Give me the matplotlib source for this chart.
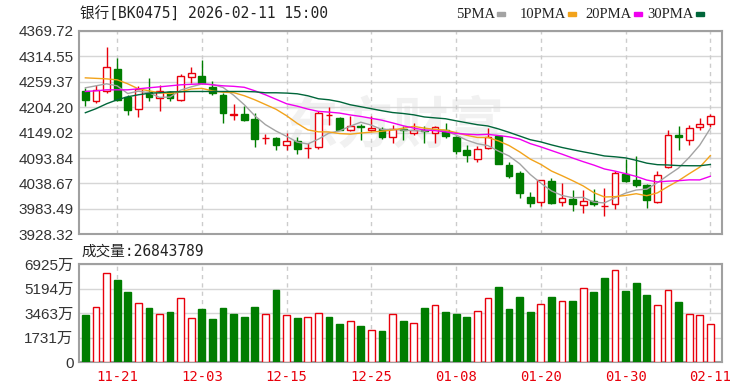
import numpy as np
import pandas as pd
import matplotlib
matplotlib.use('Agg')
import matplotlib.pyplot as plt
from matplotlib.patches import Rectangle

# 银行[BK0475] daily candles
opens = [4238.4, 4216.7, 4238.4, 4287.5, 4225.4, 4200.9, 4236.2, 4224.1, 4237.1, 4218.9,
         4269.5, 4273.0, 4249.2, 4230.6, 4188.4, 4189.5, 4178.6, 4137.7, 4137.5, 4121.5,
         4130.2, 4115.2, 4118.0, 4187.0, 4180.8, 4155.5, 4162.6, 4155.5, 4157.0, 4139.7,
         4157.7, 4148.3, 4154.0, 4148.3, 4155.5, 4139.7, 4110.7, 4092.7, 4115.9, 4141.0,
         4079.7, 4061.8, 4009.8, 3998.2, 4043.6, 3998.2, 4005.5, 3991.0, 4000.3, 3989.9,
         3993.2, 4060.3, 4045.8, 4035.0, 3998.2, 4073.9, 4144.7, 4133.9, 4161.3, 4168.5]
highs = [4245.7, 4252.9, 4335.7, 4310.6, 4231.2, 4250.7, 4267.4, 4252.9, 4238.4, 4276.7,
         4292.5, 4307.0, 4262.2, 4234.9, 4211.7, 4205.9, 4191.6, 4146.8, 4138.5, 4148.3,
         4139.7, 4126.7, 4195.1, 4203.7, 4182.0, 4185.8, 4168.5, 4184.3, 4160.5, 4166.3,
         4162.6, 4170.0, 4164.1, 4164.1, 4170.0, 4141.0, 4123.0, 4119.3, 4159.2, 4142.0,
         4084.7, 4065.3, 4019.8, 4047.3, 4051.0, 4040.1, 4024.1, 4024.1, 4025.7, 4027.8,
         4065.3, 4092.1, 4099.2, 4036.5, 4065.3, 4154.0, 4162.6, 4166.3, 4180.8, 4190.1]
lows = [4207.4, 4214.0, 4236.0, 4218.0, 4187.9, 4183.0, 4216.7, 4195.1, 4216.7, 4217.0,
        4256.5, 4255.0, 4229.7, 4170.0, 4177.1, 4173.4, 4118.0, 4125.2, 4112.2, 4112.2,
        4103.5, 4094.2, 4114.4, 4166.3, 4154.0, 4153.3, 4133.9, 4153.3, 4135.4, 4126.7,
        4133.9, 4144.7, 4126.7, 4126.7, 4137.5, 4103.5, 4084.7, 4084.7, 4113.7, 4080.0,
        4051.0, 4007.7, 3987.3, 3989.5, 3993.2, 3989.5, 3978.7, 3975.2, 3989.5, 3967.9,
        3982.4, 4041.4, 4031.5, 3986.0, 3997.0, 4072.0, 4110.7, 4123.0, 4155.5, 4161.3]
closes = [4218.9, 4242.1, 4291.2, 4220.4, 4197.3, 4244.2, 4225.4, 4240.5, 4224.1, 4273.0,
          4279.5, 4256.5, 4234.9, 4191.6, 4188.4, 4177.1, 4136.0, 4137.7, 4121.5, 4131.7,
          4114.4, 4115.2, 4191.6, 4187.0, 4155.5, 4164.1, 4160.5, 4159.2, 4139.7, 4157.7,
          4155.5, 4155.5, 4152.7, 4160.5, 4141.0, 4108.5, 4101.4, 4113.7, 4139.7, 4081.3,
          4055.9, 4017.0, 3996.9, 4045.8, 3996.9, 4006.2, 3993.2, 4000.3, 3993.2, 3989.9,
          4061.8, 4043.6, 4034.3, 4002.5, 4058.1, 4144.0, 4139.7, 4159.2, 4167.8, 4184.3]
# volume in 万
volumes = [3298, 3896, 6318, 5841, 4936, 4203, 3825, 3398, 3540, 4509,
           3084, 3725, 3013, 3825, 3419, 3205, 3918, 3419, 5129, 3298,
           3113, 3205, 3490, 3205, 2707, 2899, 2586, 2301, 2208, 3419,
           2899, 2799, 3825, 4010, 3540, 3419, 3205, 3611, 4509, 5321,
           3725, 4609, 3540, 4131, 4609, 4324, 4324, 5221, 4936, 5933,
           6532, 5036, 5627, 4722, 4010, 5129, 4224, 3419, 3298, 2684]

ma5 = [4246.4, 4250.7, 4255.1, 4250.7, 4234.0, 4239.0, 4235.7, 4225.6, 4226.3, 4241.4,
       4248.5, 4254.7, 4253.6, 4247.1, 4230.2, 4209.7, 4185.6, 4166.4, 4152.5, 4141.0,
       4128.5, 4124.4, 4134.9, 4148.1, 4152.9, 4163.0, 4171.7, 4165.3, 4155.8, 4156.2,
       4154.5, 4153.5, 4152.2, 4156.4, 4153.0, 4143.6, 4132.8, 4125.0, 4120.9, 4108.9,
       4098.4, 4081.5, 4058.2, 4039.4, 4022.5, 4012.6, 4007.8, 4008.5, 3998.0, 3996.5,
       4007.7, 4017.7, 4024.5, 4026.4, 4040.3, 4056.5, 4072.1, 4095.2, 4121.9, 4158.3]
ma10 = [4268.0, 4266.9, 4265.8, 4263.7, 4255.1, 4244.2, 4239.9, 4235.6, 4234.0, 4237.7,
        4243.8, 4245.2, 4239.6, 4236.7, 4235.9, 4229.2, 4220.3, 4210.1, 4199.8, 4185.7,
        4169.2, 4155.1, 4150.8, 4150.5, 4147.1, 4145.8, 4148.2, 4150.2, 4152.1, 4154.7,
        4158.8, 4162.7, 4158.8, 4156.1, 4154.6, 4149.1, 4143.2, 4138.6, 4138.6, 4131.0,
        4121.0, 4107.2, 4091.6, 4080.1, 4065.7, 4055.5, 4044.7, 4033.3, 4018.7, 4009.4,
        4010.0, 4012.7, 4016.4, 4012.1, 4018.2, 4032.0, 4044.8, 4059.8, 4074.1, 4099.2]
ma20 = [4238.4, 4239.9, 4242.0, 4242.0, 4242.0, 4244.2, 4246.4, 4248.5, 4250.7, 4252.9,
        4254.0, 4255.1, 4252.9, 4250.7, 4249.6, 4247.5, 4239.9, 4231.2, 4221.5, 4211.7,
        4206.5, 4200.2, 4195.2, 4193.6, 4191.5, 4187.5, 4184.2, 4180.2, 4176.0, 4170.2,
        4164.0, 4158.9, 4154.8, 4153.3, 4150.8, 4147.4, 4145.7, 4144.4, 4145.3, 4142.8,
        4139.9, 4135.0, 4125.2, 4118.1, 4110.2, 4102.3, 4093.9, 4086.0, 4078.6, 4070.2,
        4065.5, 4059.9, 4054.0, 4046.1, 4042.0, 4043.7, 4044.7, 4046.5, 4046.4, 4054.3]
ma30 = [4192.3, 4201.0, 4211.7, 4220.4, 4226.9, 4231.2, 4234.5, 4235.6, 4237.7, 4237.7,
        4238.4, 4238.4, 4238.4, 4238.4, 4238.4, 4238.4, 4237.7, 4235.6, 4235.6, 4234.9,
        4233.4, 4229.1, 4222.6, 4220.4, 4216.1, 4209.6, 4205.3, 4201.0, 4196.6, 4192.7,
        4190.6, 4187.7, 4183.1, 4181.1, 4179.2, 4174.7, 4170.5, 4166.3, 4163.5, 4157.1,
        4149.7, 4141.7, 4133.7, 4128.9, 4122.5, 4116.8, 4112.0, 4107.4, 4103.1, 4098.4,
        4096.6, 4094.2, 4088.9, 4082.8, 4079.5, 4078.8, 4077.5, 4077.2, 4077.1, 4079.9]

price_ticks = [3928.32, 3983.49, 4038.67, 4093.84, 4149.02, 4204.20, 4259.37, 4314.55, 4369.72]
vol_ticks = [0, 1731, 3463, 5194, 6925]
date_labels = ['11-21', '12-03', '12-15', '12-25', '01-08', '01-20', '01-30', '02-11']
ma_names = ['5PMA', '10PMA', '20PMA', '30PMA']

# trading days (new year holiday on 01-01 / 01-02)
days = pd.bdate_range('2025-11-18', '2026-02-11', freq='C',
                      holidays=['2026-01-01', '2026-01-02'])
dates = [d.strftime('%m-%d') for d in days]

RED = '#e8000b'
GREEN = '#007d00'
ma_colors = ['#a3a3a3', '#f2a31b', '#f000f0', '#00663a']
MONO = ['DejaVu Sans Mono', 'Noto Sans CJK SC']
SANS = ['Liberation Sans', 'Noto Sans CJK SC']

W, H = 750, 391
def box(l, t, r, b):
    return [l / W, 1 - b / H, (r - l) / W, (b - t) / H]

fig = plt.figure(figsize=(7.5, 3.91), dpi=100)
ax = fig.add_axes(box(79, 31, 722, 234.3))
axv = fig.add_axes(box(79, 264.3, 722, 362))

x = np.arange(len(closes))
o, h, l, c = map(np.array, (opens, highs, lows, closes))
up = c >= o
col = np.where(up, RED, GREEN)
tick_pos = [dates.index(d) for d in date_labels]

for a in (ax, axv):
    a.set_xlim(-0.6, len(x) + 0.1)
    for p in tick_pos:
        a.axvline(p, color='#cccccc', lw=1, ls=(0, (3, 3)), zorder=1)
    a.grid(axis='y', color='#d6d6d6', lw=1, zorder=1)
    a.set_axisbelow(True)
    for s in a.spines.values():
        s.set_color('#a0a0a0')
        s.set_linewidth(1.5)
    a.tick_params(length=0, labelsize=11, labelcolor='#333333', pad=4)

# watermark
ax.text(0.49, 0.53, '东方财富', transform=ax.transAxes, ha='center', va='center',
        fontsize=40, color='#f1f1f1', fontweight='bold', style='italic',
        family='Noto Sans CJK SC', zorder=0.5)

# candles
ax.vlines(x, l, h, colors=col, lw=1, zorder=3)
body = np.maximum(np.abs(c - o), 0.6)
ax.bar(x, body, bottom=np.minimum(o, c), width=0.64,
       color=np.where(up, 'white', GREEN), edgecolor=col, lw=1, zorder=4)
for vals, cl in zip((ma5, ma10, ma20, ma30), ma_colors):
    ax.plot(x, vals, color=cl, lw=1, zorder=5)

ax.set_ylim(price_ticks[0], price_ticks[-1])
ax.set_yticks(price_ticks, ['%.2f' % t for t in price_ticks], family=SANS)
ax.set_xticks([])

# volume
prev = np.r_[c[0], c[:-1]]
vol_up = (c > o) | ((c == o) & (c >= prev))
vcol = np.where(vol_up, RED, GREEN)
axv.bar(x, volumes, width=0.64, color=np.where(vol_up, 'white', GREEN),
        edgecolor=vcol, lw=1, zorder=3)
axv.set_ylim(0, vol_ticks[-1])
axv.set_yticks(vol_ticks, ['0'] + ['%d万' % v for v in vol_ticks[1:]], family=SANS)
axv.set_xticks(tick_pos, date_labels, family=MONO, fontsize=10, color=RED)
axv.tick_params(axis='x', labelcolor=RED, pad=6)

# header texts
fig.text(80 / W, 1 - 14 / H, '银行[BK0475] 2026-02-11 15:00', va='center',
         family=MONO, fontsize=10.5, color='#222222')
fig.text(81 / W, 1 - 251.5 / H, '成交量:%d' % 26843789, va='center',
         family=MONO, fontsize=10.5, color='#222222')

sq_left = [497, 568, 634, 696]
for name, cl, sx in zip(ma_names, ma_colors, sq_left):
    fig.text((sx - 2) / W, 1 - 14 / H, name, ha='right', va='center',
             family='Liberation Serif', fontsize=10.5, color='#222222')
    fig.patches.append(Rectangle((sx / W, 1 - 16 / H), 8 / W, 4 / H,
                                 transform=fig.transFigure, color=cl))

fig.savefig('out.png', dpi=100)
